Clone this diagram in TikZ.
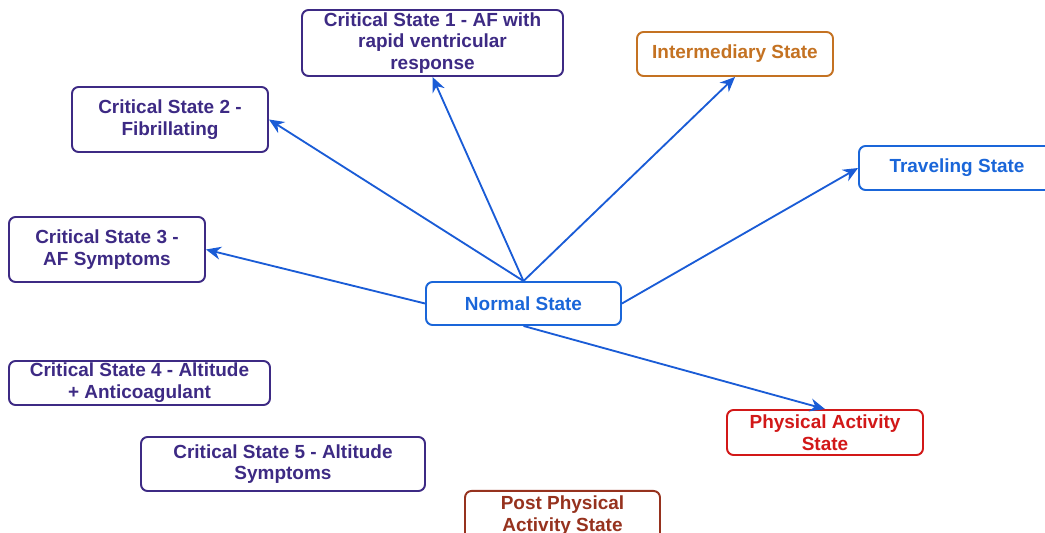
\documentclass[tikz,border=0pt]{standalone}
\usepackage{fontspec}
\setmainfont{Liberation Sans}
\usetikzlibrary{arrows.meta, positioning}
\definecolor{critpurple}{RGB}{61, 42, 132}
\definecolor{normblue}{RGB}{26, 102, 217}
\definecolor{arrowblue}{RGB}{26, 92, 214}
\definecolor{interorange}{RGB}{196, 114, 34}
\definecolor{physred}{RGB}{210, 24, 24}
\definecolor{postbrown}{RGB}{150, 50, 30}

\tikzset{
    statebox/.style={draw=#1, text=#1, line width=1.1pt, rounded corners=0.13cm,
        fill=white, align=center, inner sep=0pt,
        font=\fontsize{10.8}{12.4}\selectfont\bfseries},
    link/.style={-{Stealth[length=3mm, width=2.6mm]}, arrowblue, line width=1.05pt}
}

\begin{document}
\begin{tikzpicture}[x=0.02cm, y=-0.02cm]

% frame of the picture
\useasboundingbox (0,0) rectangle (1045,533);
\clip (0,0) rectangle (1045,533);

% Centre
\node[statebox=normblue, minimum width=3.9cm, minimum height=0.86cm] (normal) at (523.5,303.5) {Normal State};

% Critical states
\node[statebox=critpurple, minimum width=5.22cm, minimum height=1.32cm] (crit1) at (432.5,43) {Critical State 1 - AF with\\rapid ventricular\\response};
\node[statebox=critpurple, minimum width=3.92cm, minimum height=1.3cm] (crit2) at (170,119.5) {Critical State 2 -\\Fibrillating};
\node[statebox=critpurple, minimum width=3.92cm, minimum height=1.3cm] (crit3) at (107,249.5) {Critical State 3 -\\AF Symptoms};
\node[statebox=critpurple, minimum width=5.22cm, minimum height=0.88cm] (crit4) at (139.5,383) {Critical State 4 - Altitude\\+ Anticoagulant};
\node[statebox=critpurple, minimum width=5.68cm, minimum height=1.08cm] (crit5) at (283,464) {Critical State 5 - Altitude\\Symptoms};

% Other states
\node[statebox=interorange, minimum width=3.92cm, minimum height=0.88cm] (inter) at (735,54) {Intermediary State};
\node[statebox=normblue, minimum width=3.92cm, minimum height=0.88cm] (travel) at (957,168) {Traveling State};
\node[statebox=physred, minimum width=3.92cm, minimum height=0.9cm] (phys) at (825,432.5) {Physical Activity\\State};
\node[statebox=postbrown, minimum width=3.9cm, minimum height=1.0cm, anchor=north] (post) at (562.5,490) {Post Physical\\Activity State};

% Transitions out of the normal state
\draw[link] (normal.north) -- (crit1.south);
\draw[link] (normal.north) -- (crit2.east);
\draw[link] (normal.west) -- (crit3.east);
\draw[link] (normal.north) -- (inter.south);
\draw[link] (normal.east) -- (travel.west);
\draw[link] (normal.south) -- (phys.north);

\end{tikzpicture}
\end{document}
